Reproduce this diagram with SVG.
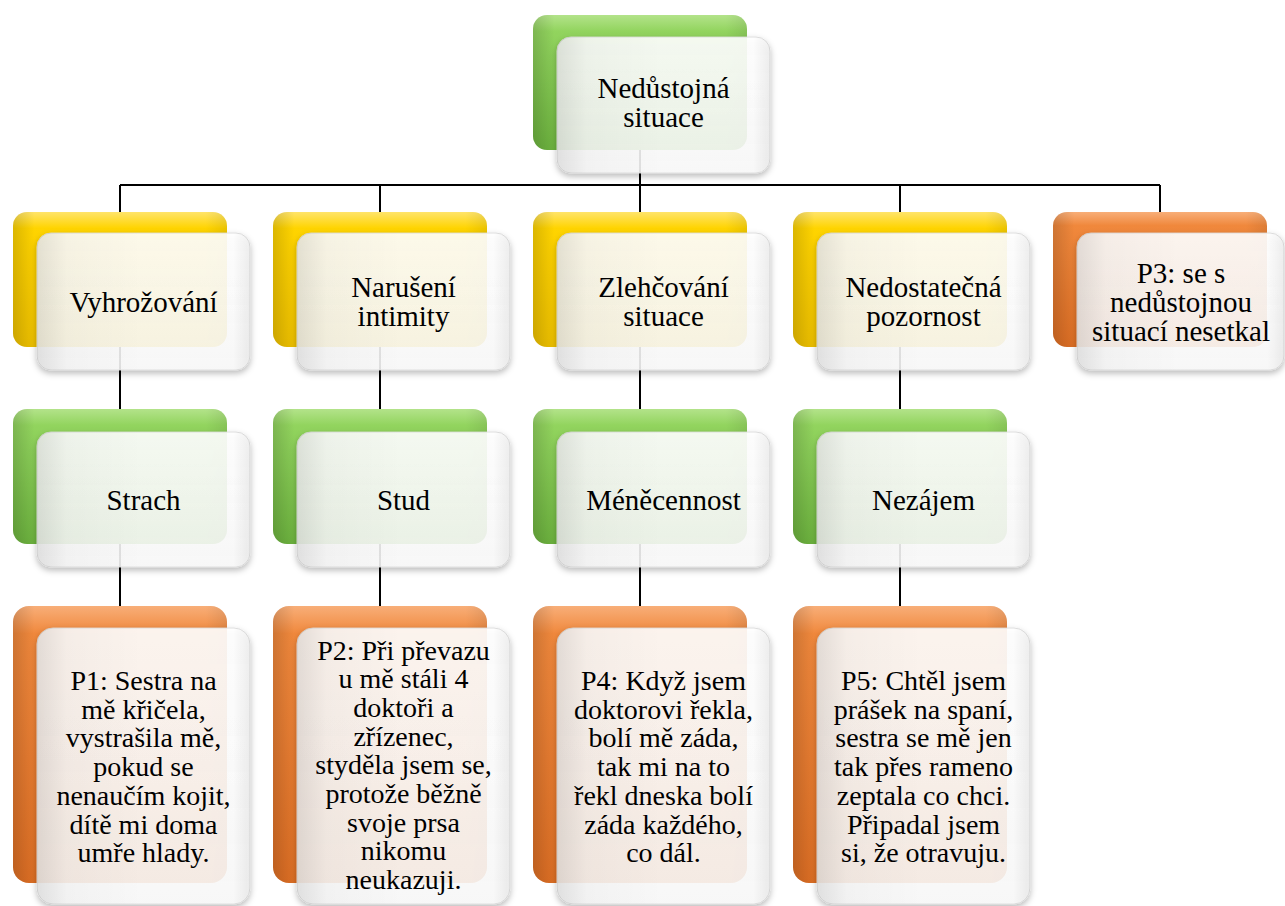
<svg xmlns="http://www.w3.org/2000/svg" width="1285" height="906" viewBox="0 0 1285 906">
<defs>
<linearGradient id="gGreen" x1="0" y1="0" x2="0" y2="1">
<stop offset="0" stop-color="#b3e38a"/><stop offset="0.12" stop-color="#92d45e"/><stop offset="1" stop-color="#6cb23e"/>
</linearGradient>
<linearGradient id="gYellow" x1="0" y1="0" x2="0" y2="1">
<stop offset="0" stop-color="#ffe46a"/><stop offset="0.12" stop-color="#ffd400"/><stop offset="1" stop-color="#ecbf00"/>
</linearGradient>
<linearGradient id="gOrange" x1="0" y1="0" x2="0" y2="1">
<stop offset="0" stop-color="#f8ae78"/><stop offset="0.1" stop-color="#f0883c"/><stop offset="1" stop-color="#dc6e24"/>
</linearGradient>
<linearGradient id="gBackH" x1="0" y1="0" x2="1" y2="0">
<stop offset="0" stop-color="#000" stop-opacity="0.14"/><stop offset="0.1" stop-color="#000" stop-opacity="0"/>
<stop offset="0.9" stop-color="#000" stop-opacity="0"/><stop offset="1" stop-color="#000" stop-opacity="0.08"/>
</linearGradient>
<linearGradient id="gFront" x1="0" y1="0" x2="0" y2="1">
<stop offset="0" stop-color="#ffffff" stop-opacity="0.9"/><stop offset="1" stop-color="#fbfbfb" stop-opacity="0.87"/>
</linearGradient>
<linearGradient id="gFrontH" x1="0" y1="0" x2="1" y2="0">
<stop offset="0" stop-color="#000" stop-opacity="0.1"/><stop offset="0.14" stop-color="#000" stop-opacity="0.025"/>
<stop offset="0.5" stop-color="#000" stop-opacity="0"/><stop offset="0.92" stop-color="#000" stop-opacity="0"/>
<stop offset="1" stop-color="#000" stop-opacity="0.06"/>
</linearGradient>
<filter id="sh" x="-10%" y="-10%" width="125%" height="130%">
<feDropShadow dx="0" dy="3" stdDeviation="3" flood-color="#000" flood-opacity="0.3"/>
</filter>
</defs>
<style>
.conn{stroke:#000;stroke-width:2;fill:none}
.green{fill:url(#gGreen)}
.yellow{fill:url(#gYellow)}
.orange{fill:url(#gOrange)}
.bshade{fill:url(#gBackH)}
.front{fill:url(#gFront);stroke:#d8d8d8;stroke-width:0.8;filter:url(#sh)}
.fshade{fill:url(#gFrontH)}
</style>
<rect width="1285" height="906" fill="#fff"/>
<g id="connectors">
<path class="conn" d="M640 140V185M120 185H1160M120 185V606M380 185V606M640 185V606M900 185V606M1160 185V212"/>
</g>
<g id="n-root">
<rect class="green" x="533" y="15" width="214" height="135" rx="14"/><rect class="bshade" x="533" y="15" width="214" height="135" rx="14"/>
<rect class="front" x="557" y="37" width="213" height="136" rx="14"/><rect class="fshade" x="557" y="37" width="213" height="136" rx="14"/>
<text font-family="Liberation Serif, Tinos, serif" font-size="29" text-anchor="middle" fill="#000" x="663.5" y="98">Nedůstojná<tspan x="663.5" dy="29">situace</tspan></text>
</g>
<g id="n-vyhrozovani">
<rect class="yellow" x="13" y="212" width="214" height="135" rx="14"/><rect class="bshade" x="13" y="212" width="214" height="135" rx="14"/>
<rect class="front" x="37" y="233" width="213" height="137" rx="14"/><rect class="fshade" x="37" y="233" width="213" height="137" rx="14"/>
<text font-family="Liberation Serif, Tinos, serif" font-size="29" text-anchor="middle" fill="#000" x="143.5" y="311.5">Vyhrožování</text>
</g>
<g id="n-naruseni">
<rect class="yellow" x="273" y="212" width="214" height="135" rx="14"/><rect class="bshade" x="273" y="212" width="214" height="135" rx="14"/>
<rect class="front" x="297" y="233" width="213" height="137" rx="14"/><rect class="fshade" x="297" y="233" width="213" height="137" rx="14"/>
<text font-family="Liberation Serif, Tinos, serif" font-size="29" text-anchor="middle" fill="#000" x="403.5" y="297">Narušení<tspan x="403.5" dy="29">intimity</tspan></text>
</g>
<g id="n-zlehcovani">
<rect class="yellow" x="533" y="212" width="214" height="135" rx="14"/><rect class="bshade" x="533" y="212" width="214" height="135" rx="14"/>
<rect class="front" x="557" y="233" width="213" height="137" rx="14"/><rect class="fshade" x="557" y="233" width="213" height="137" rx="14"/>
<text font-family="Liberation Serif, Tinos, serif" font-size="29" text-anchor="middle" fill="#000" x="663.5" y="297">Zlehčování<tspan x="663.5" dy="29">situace</tspan></text>
</g>
<g id="n-nedostatecna">
<rect class="yellow" x="793" y="212" width="214" height="135" rx="14"/><rect class="bshade" x="793" y="212" width="214" height="135" rx="14"/>
<rect class="front" x="817" y="233" width="213" height="137" rx="14"/><rect class="fshade" x="817" y="233" width="213" height="137" rx="14"/>
<text font-family="Liberation Serif, Tinos, serif" font-size="29" text-anchor="middle" fill="#000" x="923.5" y="297">Nedostatečná<tspan x="923.5" dy="29">pozornost</tspan></text>
</g>
<g id="n-p3">
<rect class="orange" x="1053" y="212" width="214" height="135" rx="14"/><rect class="bshade" x="1053" y="212" width="214" height="135" rx="14"/>
<rect class="front" x="1077" y="233" width="207" height="137" rx="14"/><rect class="fshade" x="1077" y="233" width="207" height="137" rx="14"/>
<text font-family="Liberation Serif, Tinos, serif" font-size="29" text-anchor="middle" fill="#000" x="1181" y="282.5">P3: se s<tspan x="1181" dy="29">nedůstojnou</tspan><tspan x="1181" dy="29">situací nesetkal</tspan></text>
</g>
<g id="n-strach">
<rect class="green" x="13" y="409" width="214" height="135" rx="14"/><rect class="bshade" x="13" y="409" width="214" height="135" rx="14"/>
<rect class="front" x="37" y="432" width="213" height="135" rx="14"/><rect class="fshade" x="37" y="432" width="213" height="135" rx="14"/>
<text font-family="Liberation Serif, Tinos, serif" font-size="29" text-anchor="middle" fill="#000" x="143.5" y="509.5">Strach</text>
</g>
<g id="n-stud">
<rect class="green" x="273" y="409" width="214" height="135" rx="14"/><rect class="bshade" x="273" y="409" width="214" height="135" rx="14"/>
<rect class="front" x="297" y="432" width="213" height="135" rx="14"/><rect class="fshade" x="297" y="432" width="213" height="135" rx="14"/>
<text font-family="Liberation Serif, Tinos, serif" font-size="29" text-anchor="middle" fill="#000" x="403.5" y="509.5">Stud</text>
</g>
<g id="n-menecennost">
<rect class="green" x="533" y="409" width="214" height="135" rx="14"/><rect class="bshade" x="533" y="409" width="214" height="135" rx="14"/>
<rect class="front" x="557" y="432" width="213" height="135" rx="14"/><rect class="fshade" x="557" y="432" width="213" height="135" rx="14"/>
<text font-family="Liberation Serif, Tinos, serif" font-size="29" text-anchor="middle" fill="#000" x="663.5" y="509.5">Méněcennost</text>
</g>
<g id="n-nezajem">
<rect class="green" x="793" y="409" width="214" height="135" rx="14"/><rect class="bshade" x="793" y="409" width="214" height="135" rx="14"/>
<rect class="front" x="817" y="432" width="213" height="135" rx="14"/><rect class="fshade" x="817" y="432" width="213" height="135" rx="14"/>
<text font-family="Liberation Serif, Tinos, serif" font-size="29" text-anchor="middle" fill="#000" x="923.5" y="509.5">Nezájem</text>
</g>
<g id="n-p1">
<rect class="orange" x="13" y="606" width="214" height="277" rx="16"/><rect class="bshade" x="13" y="606" width="214" height="277" rx="16"/>
<rect class="front" x="37" y="628" width="213" height="276" rx="16"/><rect class="fshade" x="37" y="628" width="213" height="276" rx="16"/>
<text font-family="Liberation Serif, Tinos, serif" font-size="28" text-anchor="middle" fill="#000" x="143.5" y="690">P1: Sestra na<tspan x="143.5" dy="28.7">mě křičela,</tspan><tspan x="143.5" dy="28.7">vystrašila mě,</tspan><tspan x="143.5" dy="28.7">pokud se</tspan><tspan x="143.5" dy="28.7">nenaučím kojit,</tspan><tspan x="143.5" dy="28.7">dítě mi doma</tspan><tspan x="143.5" dy="28.7">umře hlady.</tspan></text>
</g>
<g id="n-p2">
<rect class="orange" x="273" y="606" width="214" height="277" rx="16"/><rect class="bshade" x="273" y="606" width="214" height="277" rx="16"/>
<rect class="front" x="297" y="628" width="213" height="276" rx="16"/><rect class="fshade" x="297" y="628" width="213" height="276" rx="16"/>
<text font-family="Liberation Serif, Tinos, serif" font-size="28" text-anchor="middle" fill="#000" x="403.5" y="659.5">P2: Při převazu<tspan x="403.5" dy="28.7">u mě stáli 4</tspan><tspan x="403.5" dy="28.7">doktoři a</tspan><tspan x="403.5" dy="28.7">zřízenec,</tspan><tspan x="403.5" dy="28.7">styděla jsem se,</tspan><tspan x="403.5" dy="28.7">protože běžně</tspan><tspan x="403.5" dy="28.7">svoje prsa</tspan><tspan x="403.5" dy="28.7">nikomu</tspan><tspan x="403.5" dy="28.7">neukazuji.</tspan></text>
</g>
<g id="n-p4">
<rect class="orange" x="533" y="606" width="214" height="277" rx="16"/><rect class="bshade" x="533" y="606" width="214" height="277" rx="16"/>
<rect class="front" x="557" y="628" width="213" height="276" rx="16"/><rect class="fshade" x="557" y="628" width="213" height="276" rx="16"/>
<text font-family="Liberation Serif, Tinos, serif" font-size="28" text-anchor="middle" fill="#000" x="663.5" y="690">P4: Když jsem<tspan x="663.5" dy="28.7">doktorovi řekla,</tspan><tspan x="663.5" dy="28.7">bolí mě záda,</tspan><tspan x="663.5" dy="28.7">tak mi na to</tspan><tspan x="663.5" dy="28.7">řekl dneska bolí</tspan><tspan x="663.5" dy="28.7">záda každého,</tspan><tspan x="663.5" dy="28.7">co dál.</tspan></text>
</g>
<g id="n-p5">
<rect class="orange" x="793" y="606" width="214" height="277" rx="16"/><rect class="bshade" x="793" y="606" width="214" height="277" rx="16"/>
<rect class="front" x="817" y="628" width="213" height="276" rx="16"/><rect class="fshade" x="817" y="628" width="213" height="276" rx="16"/>
<text font-family="Liberation Serif, Tinos, serif" font-size="28" text-anchor="middle" fill="#000" x="923.5" y="690">P5: Chtěl jsem<tspan x="923.5" dy="28.7">prášek na spaní,</tspan><tspan x="923.5" dy="28.7">sestra se mě jen</tspan><tspan x="923.5" dy="28.7">tak přes rameno</tspan><tspan x="923.5" dy="28.7">zeptala co chci.</tspan><tspan x="923.5" dy="28.7">Připadal jsem</tspan><tspan x="923.5" dy="28.7">si, že otravuju.</tspan></text>
</g>
</svg>
